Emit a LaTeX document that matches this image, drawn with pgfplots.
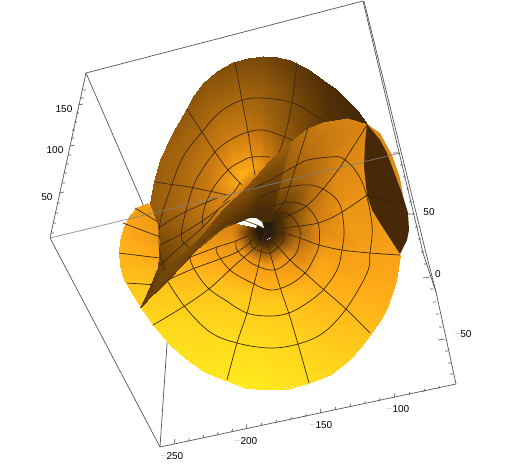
\documentclass[border=0pt]{standalone}
\usepackage{pgfplots}
\pgfplotsset{compat=1.18}
\usepackage{fontspec}
\setmainfont{Liberation Sans}
\definecolor{grd}{RGB}{58,40,18}
\definecolor{boxc}{RGB}{85,85,85}
\definecolor{lab}{RGB}{90,90,90}
\definecolor{lensline}{RGB}{52,30,10}
\definecolor{throat}{RGB}{85,50,6}
\definecolor{core}{RGB}{40,28,14}
\newcommand{\mn}{\textcolor{gray!45}{−}}
\begin{document}
\begin{tikzpicture}
\begin{axis}[
    width=513pt, height=464pt, scale only axis,
    xmin=0, xmax=513, ymin=0, ymax=464, y dir=reverse,
    hide axis, clip=false,
    colormap={am}{rgb255(0cm)=(36,26,16); rgb255(1cm)=(85,50,6); rgb255(2cm)=(150,92,12);
      rgb255(3cm)=(215,130,18); rgb255(4cm)=(255,170,24); rgb255(5cm)=(255,232,30)},
    colormap name=am,
    point meta min=0, point meta max=1,
    every node/.append style={font=\fontsize{10}{12}\selectfont, text=lab, inner sep=0pt},
    disc/.style={grd, line width=0.7pt, smooth, tension=0.6},
    bx/.style={boxc, line width=0.7pt},
    tk/.style={boxc, line width=0.6pt, unbounded coords=jump},
]
\path (axis cs:0,0) (axis cs:513,464);
% back edges of the box
\addplot[bx] coordinates {(363,1) (86,73) (50,238) (160,447) (456,384)};
\addplot[bx] coordinates {(86,73) (172,271)};
\addplot[bx] coordinates {(160,447) (172,271)};
\addplot[bx] coordinates {(363,1) (423,253) (436,292) (456,384)};
\addplot[bx] coordinates {(364,1) (426,253) (436,292)};

% left and lower part of the disc
\addplot[surf, shader=interp, mesh/cols=9, point meta=\thisrow{c}] table {
x y c
257.9 228.4 .05
256.9 229.1 .05
256.3 230.6 .05
256.3 232.1 .05
256.9 233.6 .05
258.3 235.7 .05
260.2 237.7 .05
262.7 239.1 .05
265 239.6 .05
239 224.1 .55
235.3 226.7 .6
233.1 232.2 .62
233.1 237.7 .66
235.3 243.2 .68
240.4 250.9 .7
247.4 258.2 .72
256.6 263.2 .72
265 265.2 .72
211.9 217.8 .64
204.2 223.2 .66
199.7 234.5 .7
199.7 245.8 .74
204.2 257 .78
214.6 272.8 .84
229 287.6 .88
247.9 298 .9
265 302 .9
180 210.6 .68
167.8 219.2 .7
160.6 237.2 .72
160.6 255.2 .78
167.8 273.2 .84
184.4 298.4 .9
207.4 322.2 .94
237.6 338.7 .96
265 345.2 .96
147 203 .74
130 215 .76
120 240 .82
120 265 .85
130 290 .9
153 325 .95
185 358 .98
227 381 1
265 390 1
};
% rounding of the disc rim
\addplot[surf, shader=interp, mesh/cols=27, point meta=\thisrow{c}] table {
x y c
147 203 .74
138.5 209 .75
130 215 .76
125 227.5 .79
120 240 .82
120 252.5 .84
120 265 .85
125 277.5 .88
130 290 .9
141.5 307.5 .93
153 325 .95
169 341.5 .97
185 358 .98
206 369.5 .99
227 381 1
246 385.5 1
265 390 1
287 386.5 .98
309 383 .97
328.5 372 .94
348 361 .92
360 346.5 .9
372 332 .87
380 318.5 .85
388 305 .82
394 280 .79
400 255 .76
147 203 .74
137 207 .75
130 215 .76
123.5 226 .79
120 240 .82
118.5 252.5 .84
120 265 .85
123 278 .88
130 290 .9
140.5 308 .93
153 325 .95
170 345 .97
185 358 .98
204 372 .99
227 381 1
245 388 1
265 390 1
288 389 .98
309 383 .97
330 375 .94
348 361 .92
361 347 .9
372 332 .87
381 319 .85
388 305 .82
396 281 .79
400 255 .76
};
% lines on the left bump
\addplot[disc] coordinates {(135,208) (158,222)};
\addplot[disc] coordinates {(123,223) (160,237)};
\addplot[disc] coordinates {(119,253) (135,255) (160,258)};
\addplot[disc] coordinates {(127,283) (157,285)};

% back sheet
\addplot[surf, shader=interp, mesh/cols=15, point meta=\thisrow{c}] table {
x y c
243 220 .2
246 218 .2
248 216 .2
248.2 217.8 .2
248 216 .2
247.2 213.8 .2
248.2 209.5 .2
250.9 204.3 .2
252.5 201.8 .2
255.5 199.7 .2
258.5 199.1 .2
261.2 199.5 .2
264.5 201.5 .2
266.9 203.5 .2
268.9 205.9 .2
223 228 .38
225 225 .4
228 222 .42
228.6 223.4 .5
228 218 .55
225.6 211.4 .6
228.6 198.5 .64
236.7 182.9 .8
241.5 175.4 .82
250.5 169.1 .78
259.5 167.3 .7
267.6 168.5 .6
277.5 174.5 .5
284.7 180.5 .45
290.7 187.7 .4
196 250 .28
200 240 .32
205 236 .38
204.1 230.4 .46
203 220.5 .5
198.6 208.4 .52
204.1 184.8 .54
219 156.2 .58
227.8 142.4 .58
244.3 130.9 .56
260.8 127.6 .5
275.6 129.8 .42
293.8 140.8 .36
307 151.8 .3
318 165 .25
168 280 .24
172 270 .28
178 256.6 .34
179.6 237.4 .38
178 223 .42
171.6 205.4 .44
179.6 171 .46
201.2 129.4 .46
214 109.4 .46
238 92.6 .44
262 87.8 .4
283.6 91 .34
310 107 .26
329.2 123 .2
345.2 142.2 .18
140 307 .2
147 293 .22
158 267 .26
160 243 .32
158 225 .36
150 203 .4
160 160 .42
187 108 .38
203 83 .36
233 62 .33
263 56 .3
290 60 .25
323 80 .18
347 100 .14
367 124 .12
};
% throat of the back sheet
\addplot[fill=throat, draw=none] coordinates {(243,220) (246,214) (250,204) (255.5,199.7) (261,199.5) (269,206) (272,222) (258,226)} -- cycle;
% rounding of the back sheet
\addplot[surf, shader=interp, mesh/cols=19, point meta=\thisrow{c}] table {
x y c
150 203 .4
155 181.5 .41
160 160 .42
173.5 134 .4
187 108 .38
195 95.5 .37
203 83 .36
218 72.5 .34
233 62 .33
248 59 .31
263 56 .3
276.5 58 .27
290 60 .25
306.5 70 .21
323 80 .18
335 90 .16
347 100 .14
357 112 .13
367 124 .12
150 203 .4
154 181 .41
160 160 .42
172 134 .4
187 108 .38
194 95 .37
203 83 .36
217 71 .34
233 62 .33
248 58 .31
263 56 .3
277 57 .27
290 60 .25
308 69 .21
323 80 .18
336 89 .16
347 100 .14
358 111 .13
367 124 .12
};
% lines on the back sheet
\addplot[disc] coordinates {(235,62) (242,100) (248,132) (252,157) (255,175)};
\addplot[disc] coordinates {(187,109) (202,132) (215,152) (228,170) (242,185)};
\addplot[disc] coordinates {(155,182) (175,185) (195,188) (227,195)};
\addplot[disc] coordinates {(297,62) (292,103) (285,135) (278,155)};
\addplot[disc] coordinates {(160,227) (183,213) (217,198)};
\addplot[disc] coordinates {(160,245) (183,233) (208,217) (230,200)};
\addplot[disc] coordinates {(160,265) (180,247) (203,227) (218,210)};
\addplot[disc] coordinates {(325,122) (310,112) (290,102) (263,98) (242,100) (220,112) (202,132) (183,157) (170,190) (160,223) (160,253) (167,272) (175,268)};
\addplot[disc] coordinates {(297,142) (280,135) (263,130) (248,132) (230,140) (215,152) (200,173) (192,190) (183,223) (182,240) (190,248)};
\addplot[disc] coordinates {(270,157) (252,157) (240,162) (228,170) (212,190) (203,213) (203,227)};
\addplot[disc] coordinates {(240,183) (233,193) (223,203)};

% right part of the disc, front sheet
\addplot[surf, shader=interp, mesh/cols=15, point meta=\thisrow{c}] table {
x y c
265 239.6 .05
267.6 239.2 .05
269.8 237.6 .05
271.4 236.1 .05
272.4 234.5 .05
273.1 231.5 .05
272 229.6 .05
271.1 227.9 .05
270.9 226.2 .05
271.1 223.6 .05
269.9 223.3 .05
268.5 223.5 .05
267.6 223.9 .05
266.5 224.7 .05
265.3 225.8 .05
265 265.2 .72
274.7 263.7 .72
282.6 257.9 .68
288.5 252.4 .6
292.1 246.5 .52
294.7 235.5 .44
290.5 228.7 .34
287.2 222.3 .28
286.8 216.1 .26
287.4 206.7 .26
283 205.4 .26
277.8 206.2 .25
274.5 207.6 .24
270.5 210.6 .24
266.1 214.6 .22
265 302 .9
284.8 298.9 .88
301 287.2 .84
313.2 275.9 .8
320.4 263.8 .78
325.8 241.3 .7
317.2 227.3 .62
310.5 214.2 .54
309.6 201.6 .5
310.9 182.3 .48
301.9 179.6 .44
291.1 181.4 .4
284.4 184.1 .37
276.3 190.4 .35
267.3 198.5 .32
265 345.2 .96
296.7 340.2 .93
322.6 321.4 .88
342 303.4 .84
353.6 284 .8
362.2 248 .75
348.5 225.7 .72
337.7 204.8 .68
336.3 184.6 .64
338.4 153.7 .6
324 149.4 .55
306.8 152.2 .5
296 156.6 .46
283 166.6 .42
268.6 179.6 .38
265 390 1
309 383 .97
348 361 .92
372 332 .87
388 305 .82
400 255 .76
381 224 .72
366 195 .7
364 167 .66
367 124 .62
347 118 .6
323 122 .58
308 128 .54
290 142 .45
270 160 .38
};
% diagonal band
\addplot[surf, shader=interp, mesh/cols=7, point meta=\thisrow{c}] table {
x y c
140 307 .28
160 275 .3
200 237 .31
222 210 .32
247 186 .36
270 160 .38
290 142 .42
140 307.5 .24
168 278 .28
207 238 .27
227 225 .22
250 218 .14
258 218 .12
270 222 .14
};
% orange strip and dark lens on the right
\addplot[fill={rgb,255:red,222;green,138;blue,20}, draw=none] coordinates {(367,124) (380,133) (392,155) (400,178) (403,195) (387,153)} -- cycle;
\addplot[fill={rgb,255:red,71;green,40;blue,8}, draw=none] coordinates {(367,124) (380,140) (387,153) (402,193) (408,213) (409,230) (407,240) (403,248) (400,254) (380,223) (372,210) (367,195) (364,167) (365,143)} -- cycle;
\addplot[lensline, line width=0.6pt] coordinates {(367,195) (403,205)};
% dark centre
\addplot[fill=core, draw=none] coordinates {(256,228) (258,224) (265,222) (272,223) (274,231) (271,237) (265,240.5) (259,238) (256,233)} -- cycle;

% rings
\addplot[disc] coordinates {(250,190) (270,180) (297,165) (308,160) (330,157) (342,158) (355,170) (365,190) (372,225) (370,253) (367,273) (346,309) (323,333) (298,344) (270,348) (237,343) (210,332) (185,307) (168,282)};
\addplot[disc] coordinates {(260,197) (283,188) (310,185) (328,192) (340,205) (344,230) (342,250) (337,270) (323,290) (307,303) (289,313) (270,316) (247,313) (225,300) (207,287) (193,267) (190,257)};
\addplot[disc] coordinates {(257,212) (270,207) (290,202) (307,207) (318,223) (319,245) (313,260) (305,273) (289,285) (270,290) (250,282) (230,270) (217,253) (217,247)};
\addplot[disc] coordinates {(265,217) (278,213) (290,215) (299,227) (300,238) (297,252) (290,260) (280,268) (270,270) (257,266) (247,260) (237,250) (236,240)};
\addplot[disc] coordinates {(273,220) (282,223) (283,233) (282,243) (270,253) (260,251) (252,247) (250,238)};
\addplot[disc] coordinates {(273,233) (272,240) (265,243) (259,241) (256,235)};
% radials
\addplot[disc] coordinates {(265,232) (258,268) (253,288) (247,313) (237,343) (227,380)};
\addplot[disc] coordinates {(265,232) (260,243) (235,265) (210,288) (183,307) (153,325)};
\addplot[disc] coordinates {(253,240) (237,252) (217,260) (190,270) (168,280)};
\addplot[disc] coordinates {(250,235) (233,242) (217,247) (188,258)};
\addplot[disc] coordinates {(265,232) (270,253) (280,287) (289,314) (298,344) (309,383)};
\addplot[disc] coordinates {(265,232) (290,260) (305,273) (323,289) (346,309) (370,333)};
\addplot[disc] coordinates {(265,232) (283,233) (300,238) (319,245) (342,250) (370,253) (400,255)};
\addplot[disc] coordinates {(265,231) (283,228) (318,223) (342,212) (367,195)};
\addplot[disc] coordinates {(272,222) (283,218) (305,207) (322,190) (340,167) (367,125)};
\addplot[disc] coordinates {(272,215) (283,204) (290,185) (298,160) (308,128)};
% hole
\addplot[fill=white, draw=none] coordinates {(245,220) (250,218) (256,218) (262,222) (264,228) (258,225) (250,222)} -- cycle;

% front edge of the box, over the surface
\addplot[gray, opacity=0.75, line width=0.9pt] coordinates {(50,238) (400,153)};

% ticks, left axis
\addplot[tk] coordinates {(78,105) (83,104) (nan,nan) (70,146) (75,145) (nan,nan) (59,193) (64,192) (nan,nan)
 (83,90) (86,90) (nan,nan) (81,98) (84,98) (nan,nan) (76,113) (79,113) (nan,nan) (74,122) (77,122) (nan,nan)
 (72,130) (75,130) (nan,nan) (71,138) (74,138) (nan,nan) (68,155) (71,155) (nan,nan) (66,164) (69,164) (nan,nan)
 (64,173) (67,173) (nan,nan) (62,183) (65,183) (nan,nan) (57,203) (60,203) (nan,nan) (55,213) (58,213) (nan,nan)
 (53,223) (56,223) (nan,nan) (51,233) (54,233)};
% ticks, bottom axis
\addplot[tk] coordinates {(174,444) (175,439) (nan,nan) (246,429) (247,424) (nan,nan) (320,413.5) (321,408.5) (nan,nan) (394,398) (395,393) (nan,nan)
 (188.4,441) (189.4,438) (nan,nan) (202.8,438) (203.8,435) (nan,nan) (217.2,435) (218.2,432) (nan,nan) (231.6,432) (232.6,429) (nan,nan)
 (260.8,426) (261.8,423) (nan,nan) (275.6,423) (276.6,420) (nan,nan) (290.4,420) (291.4,417) (nan,nan) (305.2,417) (306.2,414) (nan,nan)
 (334.8,410) (335.8,407) (nan,nan) (349.6,407) (350.6,404) (nan,nan) (364.4,404) (365.4,401) (nan,nan) (379.2,401) (380.2,398) (nan,nan)
 (408.8,395) (409.8,392) (nan,nan) (423.6,392) (424.6,389) (nan,nan) (438.4,389) (439.4,386)};
% ticks, right axis
\addplot[tk] coordinates {(400,153) (393,153) (nan,nan) (414.7,214) (408,214) (nan,nan) (430,277) (423,278) (nan,nan) (445,339) (438,340) (nan,nan)
 (403,165) (400,165) (nan,nan) (406,177) (403,177) (nan,nan) (409,189) (406,189) (nan,nan) (412,202) (409,202) (nan,nan)
 (418,227) (415,227) (nan,nan) (421,239) (418,239) (nan,nan) (424,252) (421,252) (nan,nan) (427,264) (424,264) (nan,nan)
 (433,289) (430,289) (nan,nan) (436,302) (433,302) (nan,nan) (439,314) (436,314) (nan,nan) (442,327) (439,327) (nan,nan)
 (448,351) (445,351) (nan,nan) (451,363) (448,363) (nan,nan) (453,374) (450,374)};

\node at (axis cs:64,109) {150};
\node at (axis cs:55,150) {100};
\node at (axis cs:47,197) {50};
\node at (axis cs:172,456) {\mn250};
\node at (axis cs:246,441) {\mn200};
\node at (axis cs:321,425) {\mn150};
\node at (axis cs:398,409) {\mn100};
\node at (axis cs:429,212) {50};
\node at (axis cs:438,274) {0};
\node at (axis cs:463,334) {\mn50};
\end{axis}
\end{tikzpicture}
\end{document}
